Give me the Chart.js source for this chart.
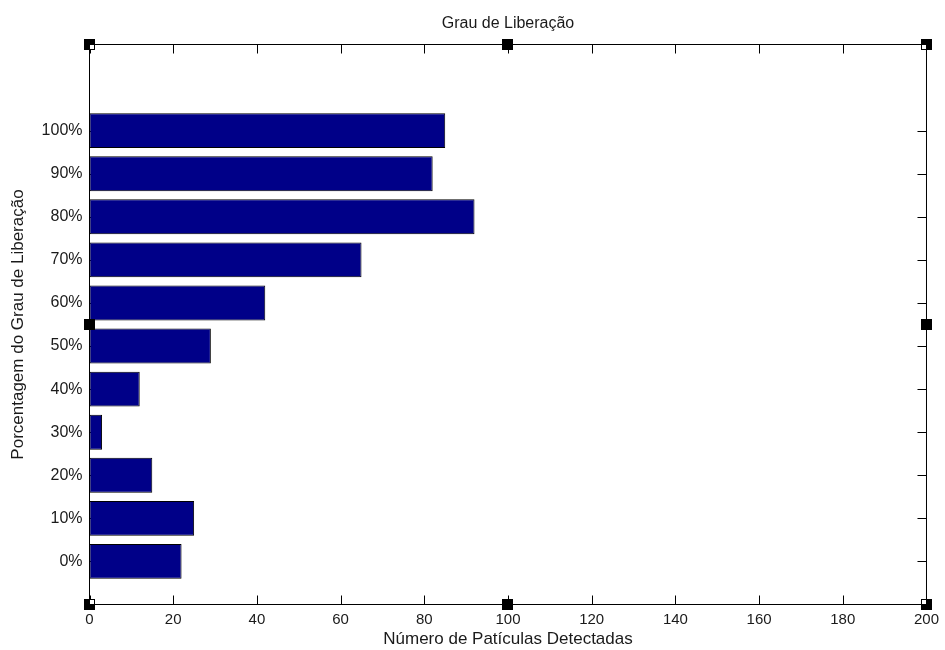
<!DOCTYPE html>
<html>
<head>
<meta charset="utf-8">
<title>Grau de Liberação</title>
<script src="https://cdn.jsdelivr.net/npm/chart.js@4/dist/chart.umd.min.js"></script>
<style>
  html, body { margin: 0; padding: 0; background: #ffffff; }
  #wrap { width: 945px; height: 650px; position: relative; }
</style>
</head>
<body>
<div id="wrap"><canvas id="chart" width="945" height="650"></canvas></div>
<script>
// Liberation classes (bottom to top) and number of particles found in each
const liberationLabels = ['0%', '10%', '20%', '30%', '40%', '50%', '60%', '70%', '80%', '90%', '100%'];
const particleCounts   = [22, 25, 15, 3, 12, 29, 42, 65, 92, 82, 85];
const countTicks       = [0, 20, 40, 60, 80, 100, 120, 140, 160, 180, 200];

const chartTitle = 'Grau de Liberação';
const xTitle = 'Número de Patículas Detectadas';
const yTitle = 'Porcentagem do Grau de Liberação';

const FONT = 'Liberation Sans, Arial, Helvetica, sans-serif';
const INK = '#1a1a1a';
const TICK_LEN = 9;

// Box axes with inward tick marks and the eight selection handles
const boxAxes = {
  id: 'boxAxes',
  beforeDatasetsDraw(chart) {
    const { ctx, chartArea: a, scales: { x, y } } = chart;
    ctx.save();
    ctx.strokeStyle = '#000';
    ctx.lineWidth = 1;
    ctx.beginPath();
    countTicks.forEach(v => {
      const px = Math.round(x.getPixelForValue(v)) + 0.5;
      ctx.moveTo(px, a.top); ctx.lineTo(px, a.top + TICK_LEN);
      ctx.moveTo(px, a.bottom); ctx.lineTo(px, a.bottom - TICK_LEN);
    });
    liberationLabels.forEach((_, i) => {
      const py = Math.round(y.getPixelForValue(i)) + 0.5;
      ctx.moveTo(a.left, py); ctx.lineTo(a.left + TICK_LEN, py);
      ctx.moveTo(a.right, py); ctx.lineTo(a.right - TICK_LEN, py);
    });
    ctx.stroke();
    ctx.restore();
  },
  afterDatasetsDraw(chart) {
    const { ctx, chartArea: a } = chart;
    ctx.save();
    ctx.strokeStyle = '#000';
    ctx.lineWidth = 1;
    ctx.strokeRect(a.left, a.top, a.right - a.left, a.bottom - a.top);
    const cx = (a.left + a.right) / 2;
    const cy = (a.top + a.bottom) / 2;
    const handles = [
      [a.left, a.top, 1, 1], [cx, a.top, 0, 1], [a.right, a.top, -1, 1],
      [a.left, cy, 1, 0], [a.right, cy, -1, 0],
      [a.left, a.bottom, 1, -1], [cx, a.bottom, 0, -1], [a.right, a.bottom, -1, -1]
    ];
    handles.forEach(([hx, hy, dx, dy]) => {
      const px = Math.round(hx - 0.5);
      const py = Math.round(hy - 0.5);
      ctx.fillStyle = '#000';
      ctx.fillRect(px - 5, py - 5, 11, 11);
      if (dx !== 0 && dy !== 0) {
        ctx.fillStyle = '#fff';
        ctx.fillRect(dx > 0 ? px + 1 : px - 4, dy > 0 ? py + 1 : py - 4, 4, 4);
      }
    });
    ctx.restore();
  }
};

new Chart(document.getElementById('chart'), {
  type: 'bar',
  data: {
    datasets: [{
      data: particleCounts.map((v, i) => ({ x: v, y: i })),
      backgroundColor: '#000088',
      borderColor: '#000000',
      borderWidth: 1,
      borderSkipped: false,
      barPercentage: 0.81,
      categoryPercentage: 1
    }]
  },
  options: {
    indexAxis: 'y',
    responsive: false,
    animation: false,
    layout: { padding: { left: 0, right: 13.5, top: 0, bottom: 0 } },
    plugins: {
      legend: { display: false },
      tooltip: { enabled: false },
      title: {
        display: true,
        text: chartTitle,
        fullSize: false,
        color: INK,
        font: { family: FONT, size: 16, weight: 'normal', lineHeight: 1.2 },
        padding: { top: 14, bottom: 11.3 }
      }
    },
    scales: {
      x: {
        type: 'linear',
        position: 'bottom',
        min: 0,
        max: 200,
        afterBuildTicks: s => { s.ticks = countTicks.map(v => ({ value: v })); },
        afterFit: s => { s.height = 45.5; },
        grid: { display: false, drawTicks: false, tickLength: 0 },
        border: { display: false },
        ticks: { color: INK, padding: 6, font: { family: FONT, size: 15 } },
        title: {
          display: true,
          text: xTitle,
          color: INK,
          font: { family: FONT, size: 17, lineHeight: 1.2 },
          padding: { top: 0, bottom: 0 }
        }
      },
      y: {
        type: 'linear',
        position: 'left',
        offset: false,
        min: -1,
        max: 12,
        afterBuildTicks: s => { s.ticks = liberationLabels.map((_, i) => ({ value: i })); },
        afterFit: s => { s.width = 89.5; },
        grid: { display: false, drawTicks: false, tickLength: 0 },
        border: { display: false },
        ticks: {
          color: INK,
          padding: 7,
          font: { family: FONT, size: 16 },
          callback: v => liberationLabels[v] ?? ''
        },
        title: {
          display: true,
          text: yTitle,
          color: INK,
          font: { family: FONT, size: 17, lineHeight: 1.2 },
          padding: { top: 8, bottom: 0 }
        }
      }
    }
  },
  plugins: [boxAxes]
});
</script>
</body>
</html>
